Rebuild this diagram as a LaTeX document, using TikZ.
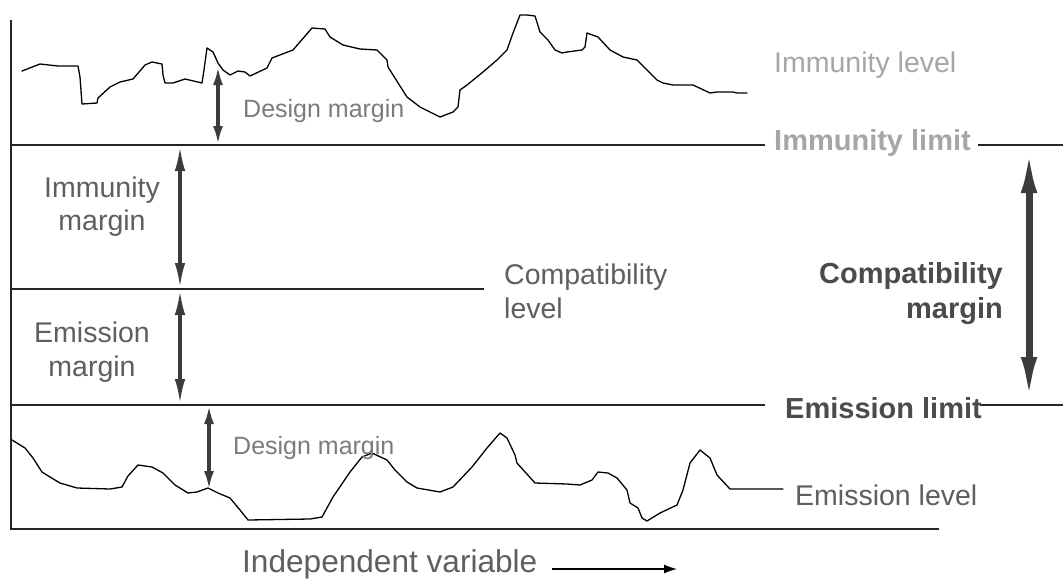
\documentclass[tikz,border=0pt]{standalone}
\usepackage{fontspec}
\setmainfont{Liberation Sans}
\usetikzlibrary{arrows.meta}
\definecolor{txtlight}{HTML}{A6A6A6}
\definecolor{txtdesign}{HTML}{7C7C7C}
\definecolor{txtmid}{HTML}{5F5F5F}
\definecolor{txtdark}{HTML}{4B4B4B}
\definecolor{arrowgray}{HTML}{3C3C3C}
\definecolor{linegray}{HTML}{262626}

\begin{document}
\begin{tikzpicture}[x=1pt,y=-1pt,
  levelline/.style={line width=1.3pt, linegray},
  axisline/.style={line width=1.8pt, linegray},
  curve/.style={line width=1.3pt, black, line join=round, line cap=round},
  lbl/.style={inner sep=0pt, font=\fontsize{28.5}{34}\selectfont},
  lblbold/.style={inner sep=0pt, font=\fontsize{29}{34}\selectfont\bfseries},
  lblsmall/.style={inner sep=0pt, font=\fontsize{25}{30}\selectfont},
  marginarrow/.style={line width=3.6pt, arrowgray,
    {Latex[length=26pt,width=10.5pt]}-{Latex[length=26pt,width=10.5pt]}},
  designarrow/.style={line width=3.6pt, arrowgray,
    {Latex[length=19pt,width=10pt]}-{Latex[length=19pt,width=10pt]}},
  bigarrow/.style={line width=7pt, arrowgray,
    {Latex[length=48pt,width=16pt]}-{Latex[length=48pt,width=16pt]}},
]
\useasboundingbox[fill=white] (0,0) rectangle (1063,579);

% axes
\coordinate (axTop) at (11,20);
\coordinate (axOrig) at (11,529);
\coordinate (axEnd) at (939,529);
\draw[axisline] (axTop) -- (axOrig) -- (axEnd);

% limit and level lines
\coordinate (imL) at (11,145);   \coordinate (imR) at (765,145);
\coordinate (imR2) at (978,145); \coordinate (imE) at (1063,145);
\coordinate (cpL) at (11,289);   \coordinate (cpR) at (484,289);
\coordinate (emL) at (11,405);   \coordinate (emR) at (765,405);
\coordinate (emR2) at (980,405); \coordinate (emE) at (1063,405);
\draw[levelline] (imL) -- (imR);
\draw[levelline] (imR2) -- (imE);
\draw[levelline] (cpL) -- (cpR);
\draw[levelline] (emL) -- (emR);
\draw[levelline] (emR2) -- (emE);

% immunity level curve
\draw[curve] (22,71) -- (40,64) -- (58,66) -- (78,66) -- (80,77) -- (82,104)
  -- (97,103) -- (98,98) -- (110,87) -- (120,82) -- (133,79) -- (145,65)
  -- (152,62) -- (162,64) -- (163,75) -- (165,83) -- (173,83) -- (185,79)
  -- (202,83) -- (204,70) -- (207,48) -- (213,52) -- (218,63) -- (223,70)
  -- (230,75) -- (238,71) -- (245,72) -- (250,76) -- (267,68) -- (272,58)
  -- (293,50) -- (312,28) -- (325,29) -- (330,37) -- (343,45) -- (360,49)
  -- (377,50) -- (387,60) -- (388,67) -- (400,86) -- (407,97) -- (420,107)
  -- (440,117) -- (453,112) -- (458,107) -- (460,90) -- (467,85) -- (483,72)
  -- (497,60) -- (507,50) -- (513,33) -- (520,15) -- (527,15) -- (535,16)
  -- (540,32) -- (548,40) -- (555,50) -- (562,53) -- (567,52) -- (582,50)
  -- (585,47) -- (587,33) -- (598,37) -- (610,50) -- (623,57) -- (637,60)
  -- (647,70) -- (657,80) -- (663,83) -- (673,85) -- (693,85) -- (710,93)
  -- (717,92) -- (733,92) -- (737,93) -- (747,93);

% emission level curve
\draw[curve] (12,440) -- (25,448) -- (33,458) -- (42,472) -- (50,477)
  -- (60,483) -- (77,488) -- (110,489) -- (122,487) -- (128,476) -- (138,465)
  -- (152,467) -- (163,473) -- (175,485) -- (188,493) -- (197,492) -- (208,488)
  -- (218,493) -- (230,498) -- (240,510) -- (248,520) -- (310,519) -- (322,517)
  -- (333,497) -- (350,472) -- (362,457) -- (372,453) -- (387,460) -- (395,470)
  -- (407,482) -- (417,488) -- (440,492) -- (453,487) -- (472,467) -- (487,448)
  -- (500,433) -- (507,438) -- (515,455) -- (517,463) -- (535,483) -- (567,484)
  -- (580,485) -- (592,480) -- (598,472) -- (608,473) -- (617,478) -- (627,490)
  -- (630,503) -- (638,508) -- (642,518) -- (647,521) -- (660,513) -- (677,505)
  -- (683,490) -- (690,463) -- (700,450) -- (710,458) -- (717,475) -- (730,489)
  -- (783,489);

% margin arrows
\coordinate (dmTopA) at (218,66);  \coordinate (dmTopB) at (218,145);
\coordinate (imA) at (180,145);    \coordinate (imB) at (180,289);
\coordinate (emA) at (180,289);    \coordinate (emB) at (180,405);
\coordinate (dmBotA) at (209,405); \coordinate (dmBotB) at (209,490);
\coordinate (cmA) at (1029,145);   \coordinate (cmB) at (1029,405);
\draw[designarrow] (dmTopA) -- (dmTopB);
\draw[marginarrow] (imA) -- (imB);
\draw[marginarrow] (emA) -- (emB);
\draw[designarrow] (dmBotA) -- (dmBotB);
\draw[bigarrow] (cmA) -- (cmB);

% labels
\node[lbl, txtlight, anchor=base west] (tImLevel) at (774,72) {Immunity level};
\node[lblbold, txtlight, anchor=base west] (tImLimit) at (774,150) {Immunity limit};
\node[lblsmall, txtdesign, anchor=base west] (tDmTop) at (243,117) {Design margin};
\node[lblsmall, txtdesign, anchor=base west] (tDmBot) at (233,454) {Design margin};
\node[lbl, txtmid, anchor=base] (tImMa) at (102,197) {Immunity};
\node[lbl, txtmid, anchor=base] (tImMb) at (102,230) {margin};
\node[lbl, txtmid, anchor=base] (tEmMa) at (92,342) {Emission};
\node[lbl, txtmid, anchor=base] (tEmMb) at (92,376) {margin};
\node[lbl, txtmid, anchor=base west] (tCpLa) at (504,284) {Compatibility};
\node[lbl, txtmid, anchor=base west] (tCpLb) at (504,318) {level};
\node[lblbold, txtdark, anchor=base east] (tCpMa) at (1003,283) {Compatibility};
\node[lblbold, txtdark, anchor=base east] (tCpMb) at (1003,318) {margin};
\node[lblbold, txtdark, anchor=base west] (tEmLimit) at (785,418) {Emission limit};
\node[lbl, txtmid, anchor=base west] (tEmLevel) at (795,505) {Emission level};
\node[inner sep=0pt, txtmid, font=\fontsize{31.6}{36}\selectfont, anchor=base west]
  (tIndep) at (242,572) {Independent variable};

% direction arrow of the independent variable
\coordinate (ivA) at (552,569);
\coordinate (ivB) at (677,569);
\draw[line width=1.3pt, black, -{Latex[length=13pt,width=9pt]}] (ivA) -- (ivB);
\end{tikzpicture}
\end{document}
